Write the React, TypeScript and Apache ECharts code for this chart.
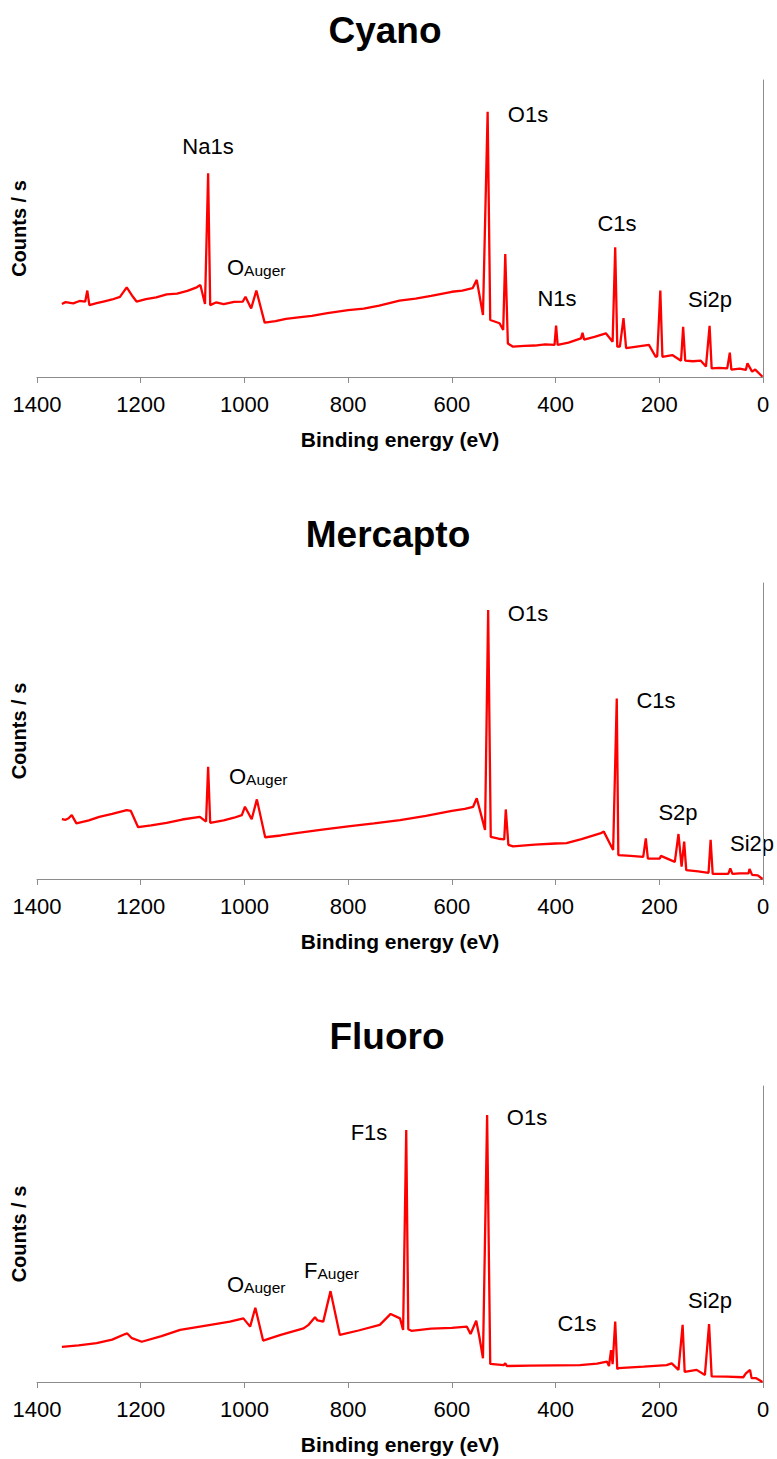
import React, { useEffect, useRef } from "react";
import * as echarts from "echarts";

// ---- Data (binding energy in eV, counts in arbitrary units 0..100) ----
const cyanoEnergy = [1352,1345,1330,1318,1307,1303,1299,1285,1270,1255,1240,1227,1215,1208,1190,1170,1150,1130,1110,1092,1085,1076,1070,1066,1055,1040,1020,1003,998,987,977,961,940,920,900,870,840,800,770,740,701,670,640,600,580,560,552,540,531,526,508,501,497,492,482,460,440,420,402,399,396,375,351,348,345,325,303,290,285,281,276,269,264,240,220,207,204,198,194,175,158,154,150,135,120,110,103,99,85,69,64,61,45,33,30,21,15,1];
const cyanoCounts = [24.6,25.2,24.8,25.6,25.4,29.1,24.2,24.9,25.5,26.1,27,30.2,27,25.4,26.2,26.8,27.8,28.1,29,30.2,31,24.6,68.6,24.2,25.1,24.5,25.3,25.4,27,23.1,29.1,18.3,18.8,19.6,20,20.6,21.5,22.5,23,24,25.7,26.4,27.3,28.7,29.1,29.9,32.7,20.9,89.3,19.2,18.1,15.8,41.4,11.3,10.2,10.5,10.6,11,10.8,17.3,10.8,11.6,13,14.9,12.6,13.5,14.7,11.9,43.7,10.2,10.2,19.8,9.7,10.3,10.8,6.8,7,29.1,6.8,7.4,5.5,16.9,5.5,5.3,5.5,3.5,17.2,2.9,3.1,2.9,8.2,2.5,2.8,2.4,4.6,1.8,2.5,0.1];

const mercaptoEnergy = [1352,1345,1339,1333,1324,1300,1280,1255,1227,1219,1205,1180,1150,1120,1086,1074,1070,1066,1040,1020,1005,999,986,976,960,930,900,850,800,750,700,650,600,575,559,552,536,530,525,510,499,496,491,482,440,400,379,350,314,307,289,282,279,255,231,226,222,199,197,170,163,157,152,148,125,105,101,97,67,63,59,45,28,26,21,10,1];
const mercaptoCounts = [20.2,20,20.5,21.6,18.8,19.8,21,22,23.3,23,17.5,18.1,19,20.1,21,19.4,37.9,19,19.8,20.7,21.6,24.4,20.2,26.9,14.1,14.7,15.5,16.7,17.8,18.8,19.9,21.3,23,23.7,24.4,27.3,16.6,90.9,14.2,13.6,13.4,23.5,11.5,11,11.6,12,12.1,13.5,15.4,16,9.8,61,8.1,7.8,7.5,13.7,6.9,6.9,7.8,5.8,15.2,4.2,12.6,3,2.6,2.1,13.2,1.7,1.7,3.6,1.7,1.9,1.9,3.4,1.4,1.2,0];

const fluoroEnergy = [1352,1320,1285,1255,1230,1226,1217,1198,1160,1124,1080,1028,1002,989,979,964,930,886,877,864,859,848,834,816,780,739,718,700,694,688,684,678,640,600,571,564,553,547,540,532,526,500,497,494,450,400,353,320,301,297,293,290,285,281,279,230,186,176,163,155,151,128,112,104,99,70,38,33,25,22,13,1];
const fluoroCounts = [11.9,12.4,13.1,14.3,16.2,16.4,14.8,13.6,15.5,17.6,18.9,20.4,21.5,18.7,25.1,14,15.9,18.1,19.2,21.9,20.8,20.4,30.7,15.9,17.4,19.3,23,21.5,17.6,85.1,17.8,17.3,18,18.3,18.7,16.2,20.7,15.3,8,90.2,6.1,5.7,6.3,5.4,5.5,5.6,5.7,6.2,6.9,5.4,10.8,6,20.4,4.3,4.7,5.2,5.7,6.3,4.1,19.3,3.4,4.1,2.4,19.6,1.9,1.8,1.6,2.9,4.1,1.3,1.3,0];

const panelTitles = ["Cyano", "Mercapto", "Fluoro"];
const xTickMin = 0;
const xTickMax = 1400;
const xTickInterval = 200;
const xAxisTitle = "Binding energy (eV)";
const yAxisTitle = "Counts / s";

// peak labels per panel: [text, x, y]
const peakLabels = [
  [["Na1s", 208, 146], ["O1s", 528, 114], ["C1s", 617, 223], ["N1s", 557, 298], ["Si2p", 710, 299]],
  [["O1s", 528, 613], ["C1s", 656, 700], ["S2p", 678, 812], ["Si2p", 752, 843]],
  [["F1s", 369, 1132], ["O1s", 527, 1117], ["C1s", 577, 1323], ["Si2p", 710, 1300]],
];
// auger labels: [main letter, left x, y]
const augerLabels = [
  [["O", 227, 267]],
  [["O", 229, 776]],
  [["O", 227, 1284], ["F", 304, 1270]],
];

const FONT = 'Arial, "Liberation Sans", Helvetica, sans-serif';
const RED = "#ff0000";
const AXIS_GRAY = "#8c8c8c";

const grids = [
  { left: 37, top: 80, width: 726, height: 297 },
  { left: 37, top: 583, width: 726, height: 296 },
  { left: 37, top: 1086, width: 726, height: 296 },
];
const titleY = [30, 534, 1036];
const titleX = [385, 388, 387];

function zip(e: number[], c: number[]) {
  return e.map((x, i) => [x, c[i]]);
}

export default function App() {
  const ref = useRef<HTMLDivElement>(null);
  useEffect(() => {
    if (!ref.current) return;
    const chart = echarts.init(ref.current, undefined, { renderer: "svg" });
    const seriesData = [
      zip(cyanoEnergy, cyanoCounts),
      zip(mercaptoEnergy, mercaptoCounts),
      zip(fluoroEnergy, fluoroCounts),
    ];
    const graphic: any[] = [];
    panelTitles.forEach((t, i) => {
      graphic.push({
        type: "text",
        x: titleX[i],
        y: titleY[i],
        style: {
          text: t,
          font: `bold 37px ${FONT}`,
          fill: "#000",
          textAlign: "center",
          textVerticalAlign: "middle",
        },
      });
    });
    peakLabels.forEach((arr) => {
      arr.forEach(([t, x, y]) => {
        graphic.push({
          type: "text",
          x,
          y,
          style: {
            text: t,
            font: `22px ${FONT}`,
            fill: "#000",
            textAlign: "center",
            textVerticalAlign: "middle",
          },
        });
      });
    });
    augerLabels.forEach((arr) => {
      arr.forEach(([t, x, y]) => {
        graphic.push({
          type: "text",
          x,
          y,
          style: {
            text: `{a|${t}}{b|Auger}`,
            textAlign: "left",
            textVerticalAlign: "middle",
            rich: {
              a: { fontSize: 22, fontFamily: FONT, lineHeight: 22, verticalAlign: "top", fill: "#000" },
              b: { fontSize: 15.5, fontFamily: FONT, lineHeight: 16, verticalAlign: "bottom", padding: [10, 0, 0, 0], fill: "#000" },
            },
          },
        });
      });
    });

    const option: any = {
      animation: false,
      backgroundColor: "#ffffff",
      grid: grids.map((g) => ({ ...g, containLabel: false })),
      xAxis: grids.map((_, i) => ({
        type: "value",
        gridIndex: i,
        min: xTickMin,
        max: xTickMax,
        interval: xTickInterval,
        inverse: true,
        name: xAxisTitle,
        nameLocation: "middle",
        nameGap: 52,
        nameTextStyle: { fontFamily: FONT, fontWeight: "bold", fontSize: 21, color: "#000" },
        axisLine: { show: true, lineStyle: { color: AXIS_GRAY, width: 1 } },
        axisTick: { show: true, length: 6, lineStyle: { color: AXIS_GRAY } },
        axisLabel: {
          margin: 16,
          fontFamily: FONT,
          fontSize: 22,
          color: "#000",
          formatter: (v: number) => String(v),
        },
        splitLine: { show: false },
      })),
      yAxis: grids.map((_, i) => ({
        type: "value",
        gridIndex: i,
        min: 0,
        max: 100,
        name: yAxisTitle,
        nameLocation: "middle",
        nameGap: 8,
        nameTextStyle: { fontFamily: FONT, fontWeight: "bold", fontSize: 20, color: "#000" },
        axisLine: { show: true, lineStyle: { color: AXIS_GRAY, width: 1 } },
        axisTick: { show: false },
        axisLabel: { show: false },
        splitLine: { show: false },
      })),
      series: seriesData.map((d, i) => ({
        type: "line",
        name: panelTitles[i],
        xAxisIndex: i,
        yAxisIndex: i,
        data: d,
        showSymbol: false,
        symbol: "none",
        lineStyle: { color: RED, width: 2.3 },
        itemStyle: { color: RED },
      })),
      graphic,
    };
    chart.setOption(option);
    return () => chart.dispose();
  }, []);
  return (
    <div
      ref={ref}
      style={{ position: "absolute", left: 0, top: 0, width: 777, height: 1459, background: "#fff" }}
    />
  );
}
